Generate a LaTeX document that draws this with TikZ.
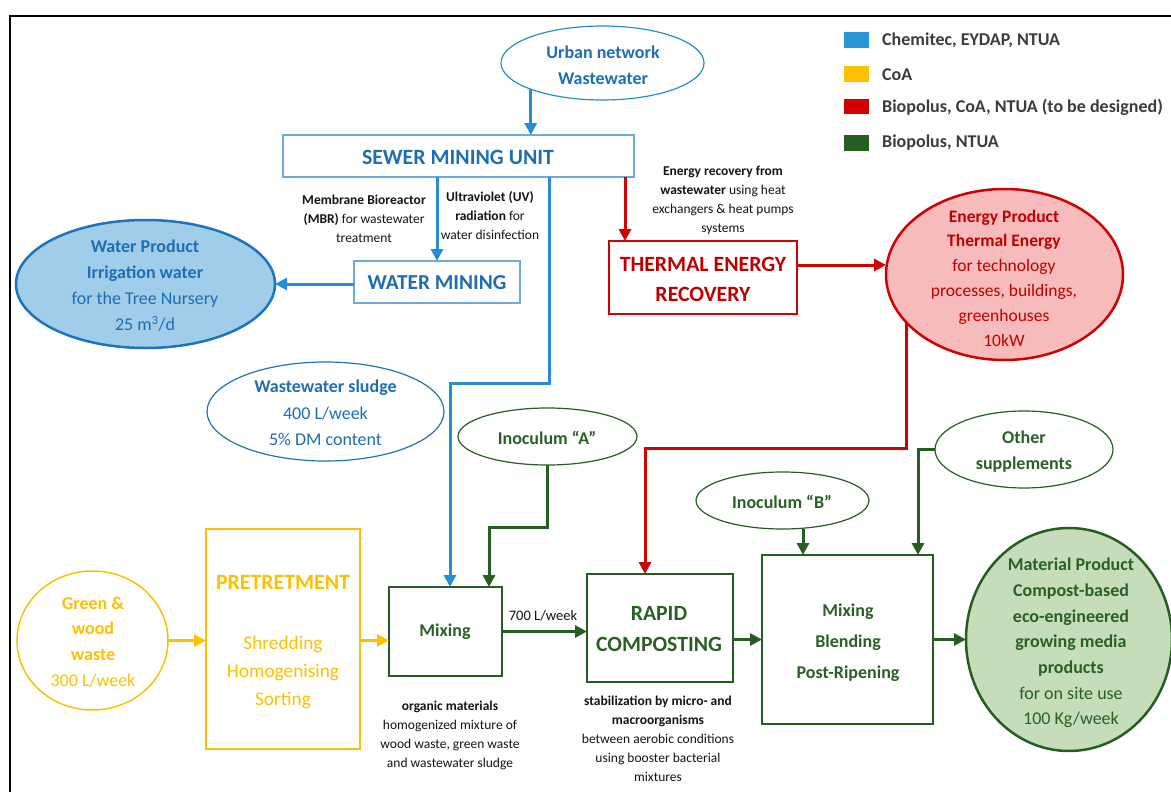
\documentclass[tikz,border=0pt]{standalone}
\usepackage{fontspec}
\setmainfont{Carlito}
\usetikzlibrary{shapes.geometric,arrows.meta}
\newcommand{\fsz}[2]{\fontsize{#1}{#2}\selectfont}
\definecolor{cblue}{RGB}{30,110,180}
\definecolor{lblue}{RGB}{38,142,210}
\definecolor{bblue}{RGB}{110,170,220}
\definecolor{legblue}{RGB}{40,150,215}
\definecolor{wfill}{RGB}{160,206,234}
\definecolor{wline}{RGB}{30,115,190}
\definecolor{cyel}{RGB}{255,192,0}
\definecolor{cred}{RGB}{210,0,0}
\definecolor{tred}{RGB}{192,0,0}
\definecolor{pinkfill}{RGB}{248,187,187}
\definecolor{cgreen}{RGB}{38,94,33}
\definecolor{tgreen}{RGB}{42,96,38}
\definecolor{gfill}{RGB}{197,221,187}
\definecolor{legtxt}{RGB}{60,60,60}
\definecolor{anno}{RGB}{20,20,20}
\begin{document}
\begin{tikzpicture}[x=1pt,y=-1pt,
  ell/.style={ellipse, inner sep=0pt, outer sep=0pt},
  boxx/.style={rectangle, inner sep=0pt, outer sep=0pt},
  txt/.style={inner sep=0pt, align=center},
  bigt/.style={txt, font=\bfseries\fsz{21.8}{30}},
  midt/.style={txt, font=\fsz{18}{26}},
  smallt/.style={txt, font=\fsz{13.5}{19}, text=anno},
  conn/.style={line width=3pt, -{Triangle[length=12pt,width=12pt]}},
  legt/.style={inner sep=0pt, anchor=west, font=\bfseries\fsz{18}{22}, text=legtxt}
]
\useasboundingbox (0,0) rectangle (1171,792);
\fill[white] (0,0) rectangle (1171,792);
% frame
\draw[line width=2.5pt] (10,792) -- (10,16) -- (1171,16);

% legend
\fill[legblue] (844,32) rectangle (869,48);
\fill[cyel] (844,66) rectangle (869,82);
\fill[cred] (844,99) rectangle (869,114);
\fill[cgreen] (844,135) rectangle (869,151);
\node[legt] (lg1) at (882,40) {Chemitec, EYDAP, NTUA};
\node[legt] (lg2) at (882,75) {CoA};
\node[legt] (lg3) at (882,107) {Biopolus, CoA, NTUA (to be designed)};
\node[legt] (lg4) at (882,143) {Biopolus, NTUA};

% blue part
\node[ell, draw=lblue, line width=1.2pt, minimum width=203pt, minimum height=74pt] (urban) at (602.5,63) {};
\node[midt, font=\bfseries\fsz{18}{26}, text=cblue] (urbant) at (603,65) {Urban network\\Wastewater};
\node[boxx, draw=bblue, line width=1.5pt, minimum width=351pt, minimum height=42pt] (sewer) at (458.5,156) {};
\node[bigt, text=cblue] (sewert) at (458,157) {SEWER MINING UNIT};
\node[boxx, draw=bblue, line width=1.5pt, minimum width=166pt, minimum height=42pt] (wm) at (437,282) {};
\node[bigt, font=\bfseries\fsz{21.3}{30}, text=cblue] (wmt) at (437,283) {WATER MINING};
\node[ell, draw=wline, fill=wfill, line width=2.5pt, minimum width=259pt, minimum height=128pt] (wp) at (145.5,284) {};
\node[midt, text=cblue] (wpt) at (145,286) {\textbf{Water Product}\\\textbf{Irrigation water}\\for the Tree Nursery\\25 m\textsuperscript{3}/d};
\node[ell, draw=wline, line width=1.2pt, minimum width=237pt, minimum height=99pt] (sludge) at (325.5,411.5) {};
\node[midt, font=\fsz{18}{26.5}, text=cblue] (sludget) at (325.5,413) {\textbf{Wastewater sludge}\\400 L/week\\5\% DM content};
\node[smallt] (mbrt) at (364,219) {\textbf{Membrane Bioreactor}\\\textbf{(MBR)} for wastewater\\treatment};
\node[smallt] (uvt) at (490,216) {\textbf{Ultraviolet (UV)}\\\textbf{radiation} for\\water disinfection};

% red part
\node[boxx, draw=cred, line width=1.5pt, minimum width=188pt, minimum height=73pt] (thermal) at (703,277.5) {};
\node[bigt, text=tred] (thermalt) at (703,279) {THERMAL ENERGY\\RECOVERY};
\node[smallt] (ert) at (723,200) {\textbf{Energy recovery from}\\\textbf{wastewater} using heat\\exchangers \& heat pumps\\systems};
\node[ell, draw=cred, fill=pinkfill, line width=2.5pt, minimum width=237pt, minimum height=171pt] (energy) at (1004.5,274.5) {};
\node[midt, font=\fsz{17.5}{24.8}, text=tred] (energyt) at (1004,278) {\textbf{Energy Product}\\\textbf{Thermal Energy}\\for technology\\processes, buildings,\\greenhouses\\10kW};

% yellow part
\node[ell, draw=cyel, line width=1.5pt, minimum width=151pt, minimum height=139pt] (gw) at (92.5,640.5) {};
\node[midt, font=\fsz{18}{25.7}, text=cyel] (gwt) at (93,642) {\textbf{Green \&}\\\textbf{wood}\\\textbf{waste}\\300 L/week};
\node[boxx, draw=cyel, line width=1.5pt, minimum width=154pt, minimum height=220pt] (pre) at (283,639) {};
\node[bigt, text=cyel] (pret1) at (283,582) {PRETRETMENT};
\node[txt, font=\fsz{19.3}{28}, text=cyel] (pret2) at (283,672) {Shredding\\Homogenising\\Sorting};

% green part
\node[ell, draw=cgreen, line width=1.2pt, minimum width=179pt, minimum height=57pt] (inA) at (547.5,436.5) {};
\node[txt, font=\bfseries\fsz{18}{26}, text=tgreen] (inAt) at (547,438) {Inoculum “A”};
\node[boxx, draw=cgreen, line width=1.5pt, minimum width=113pt, minimum height=89pt] (mix) at (445.5,631.5) {};
\node[txt, font=\bfseries\fsz{18}{26}, text=tgreen] (mixt) at (445,632) {Mixing};
\node[smallt] (mixa) at (450,735.5) {\textbf{organic materials}\\homogenized mixture of\\wood waste, green waste\\and wastewater sludge};
\node[txt, font=\fsz{14.5}{18}, text=anno] (flow) at (543,616) {700 L/week};
\node[boxx, draw=cgreen, line width=1.5pt, minimum width=146pt, minimum height=108pt] (rc) at (660,628) {};
\node[bigt, font=\bfseries\fsz{21.7}{31}, text=tgreen] (rct) at (659,629.5) {RAPID\\COMPOSTING};
\node[smallt] (rca) at (658,738.5) {\textbf{stabilization by micro- and}\\\textbf{macroorganisms}\\between aerobic conditions\\using booster bacterial\\mixtures};
\node[ell, draw=cgreen, line width=1.2pt, minimum width=173pt, minimum height=57pt] (inB) at (782.5,500.5) {};
\node[txt, font=\bfseries\fsz{18}{26}, text=tgreen] (inBt) at (782,502) {Inoculum “B”};
\node[ell, draw=cgreen, line width=1.2pt, minimum width=178pt, minimum height=77pt] (other) at (1024,449.5) {};
\node[txt, font=\bfseries\fsz{18}{26}, text=tgreen] (othert) at (1024,452) {Other\\supplements};
\node[boxx, draw=cgreen, line width=1.5pt, minimum width=171pt, minimum height=169pt] (mbp) at (847.5,639.5) {};
\node[txt, font=\bfseries\fsz{18}{31}, text=tgreen] (mbpt) at (848,643) {Mixing\\Blending\\Post-Ripening};
\node[ell, draw=cgreen, fill=gfill, line width=2.5pt, minimum width=206pt, minimum height=223pt] (mat) at (1069,639.5) {};
\node[midt, font=\fsz{18}{25.7}, text=tgreen] (matt) at (1071,643) {\textbf{Material Product}\\\textbf{Compost-based}\\\textbf{eco-engineered}\\\textbf{growing media}\\\textbf{products}\\for on site use\\100 Kg/week};

% helper coordinates
\coordinate (b1) at (549,383);
\coordinate (b2) at (450,383);
\coordinate (rx) at (625,200);
\coordinate (ty) at (800,265);
\coordinate (r3) at (645,448);
\coordinate (g1) at (489,527);
\coordinate (g2) at (803,540);
\coordinate (g3) at (918,449.5);

% blue connectors
\draw[conn, lblue] (urban.south west) -- (urban.south west |- sewer.north);
\draw[conn, lblue] (sewer.south -| wm.north) -- (wm.north);
\draw[conn, lblue] (wm.west |- wp.east) -- (wp.east);
\draw[conn, lblue] (sewer.south -| b1) -- (b1) -- (b2) -- (b2 |- mix.north);
% red connectors
\draw[conn, cred] (sewer.south -| rx) -- (thermal.north -| rx);
\draw[conn, cred] (thermal.east |- ty) -- (energy.west |- ty);
\draw[conn, cred] (energy.206.4) |- (r3) -- (r3 |- rc.north);
% yellow connectors
\draw[conn, cyel] (gw.east) -- (gw.east -| pre.west);
\draw[conn, cyel] (pre.east |- gw.east) -- (mix.west |- gw.east);
% green connectors
\draw[conn, cgreen] (inA.south) |- (g1) -- (g1 |- mix.north);
\draw[conn, cgreen] (mix.east) -- (mix.east -| rc.west);
\draw[conn, cgreen] (mbp.west -| rc.east) -- (mbp.west);
\draw[conn, cgreen] (inB.south -| g2) -- (mbp.north -| g2);
\draw[conn, cgreen] (other.west) -- (g3) -- (g3 |- mbp.north);
\draw[conn, cgreen] (mbp.east) -- (mat.west);
\end{tikzpicture}
\end{document}
